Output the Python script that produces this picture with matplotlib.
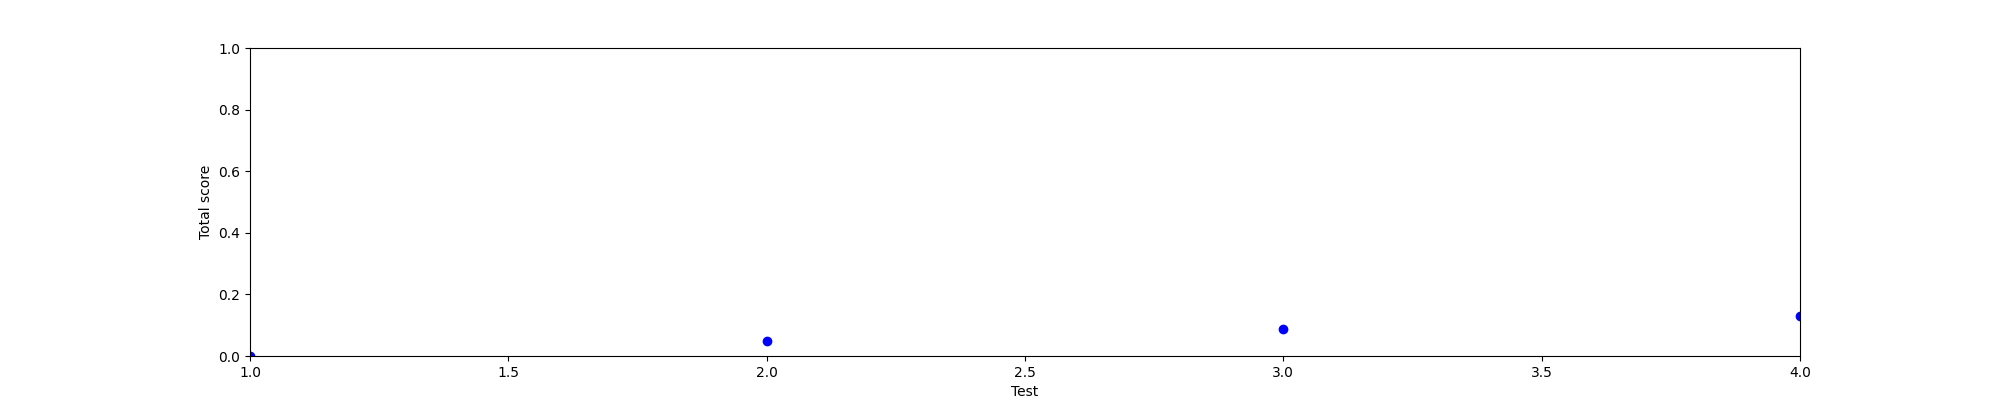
import matplotlib
matplotlib.use('Agg')
import matplotlib.pyplot as plt

# Data
tests = [1, 2, 3, 4]
scores = [0.0, 0.048, 0.088, 0.131]

fig, ax = plt.subplots(figsize=(20, 4), dpi=100)
ax.plot(tests, scores, 'bo')
ax.set_xlim(1, 4)
ax.set_ylim(0, 1)
ax.set_xlabel('Test')
ax.set_ylabel('Total score')

fig.savefig('out.png')
